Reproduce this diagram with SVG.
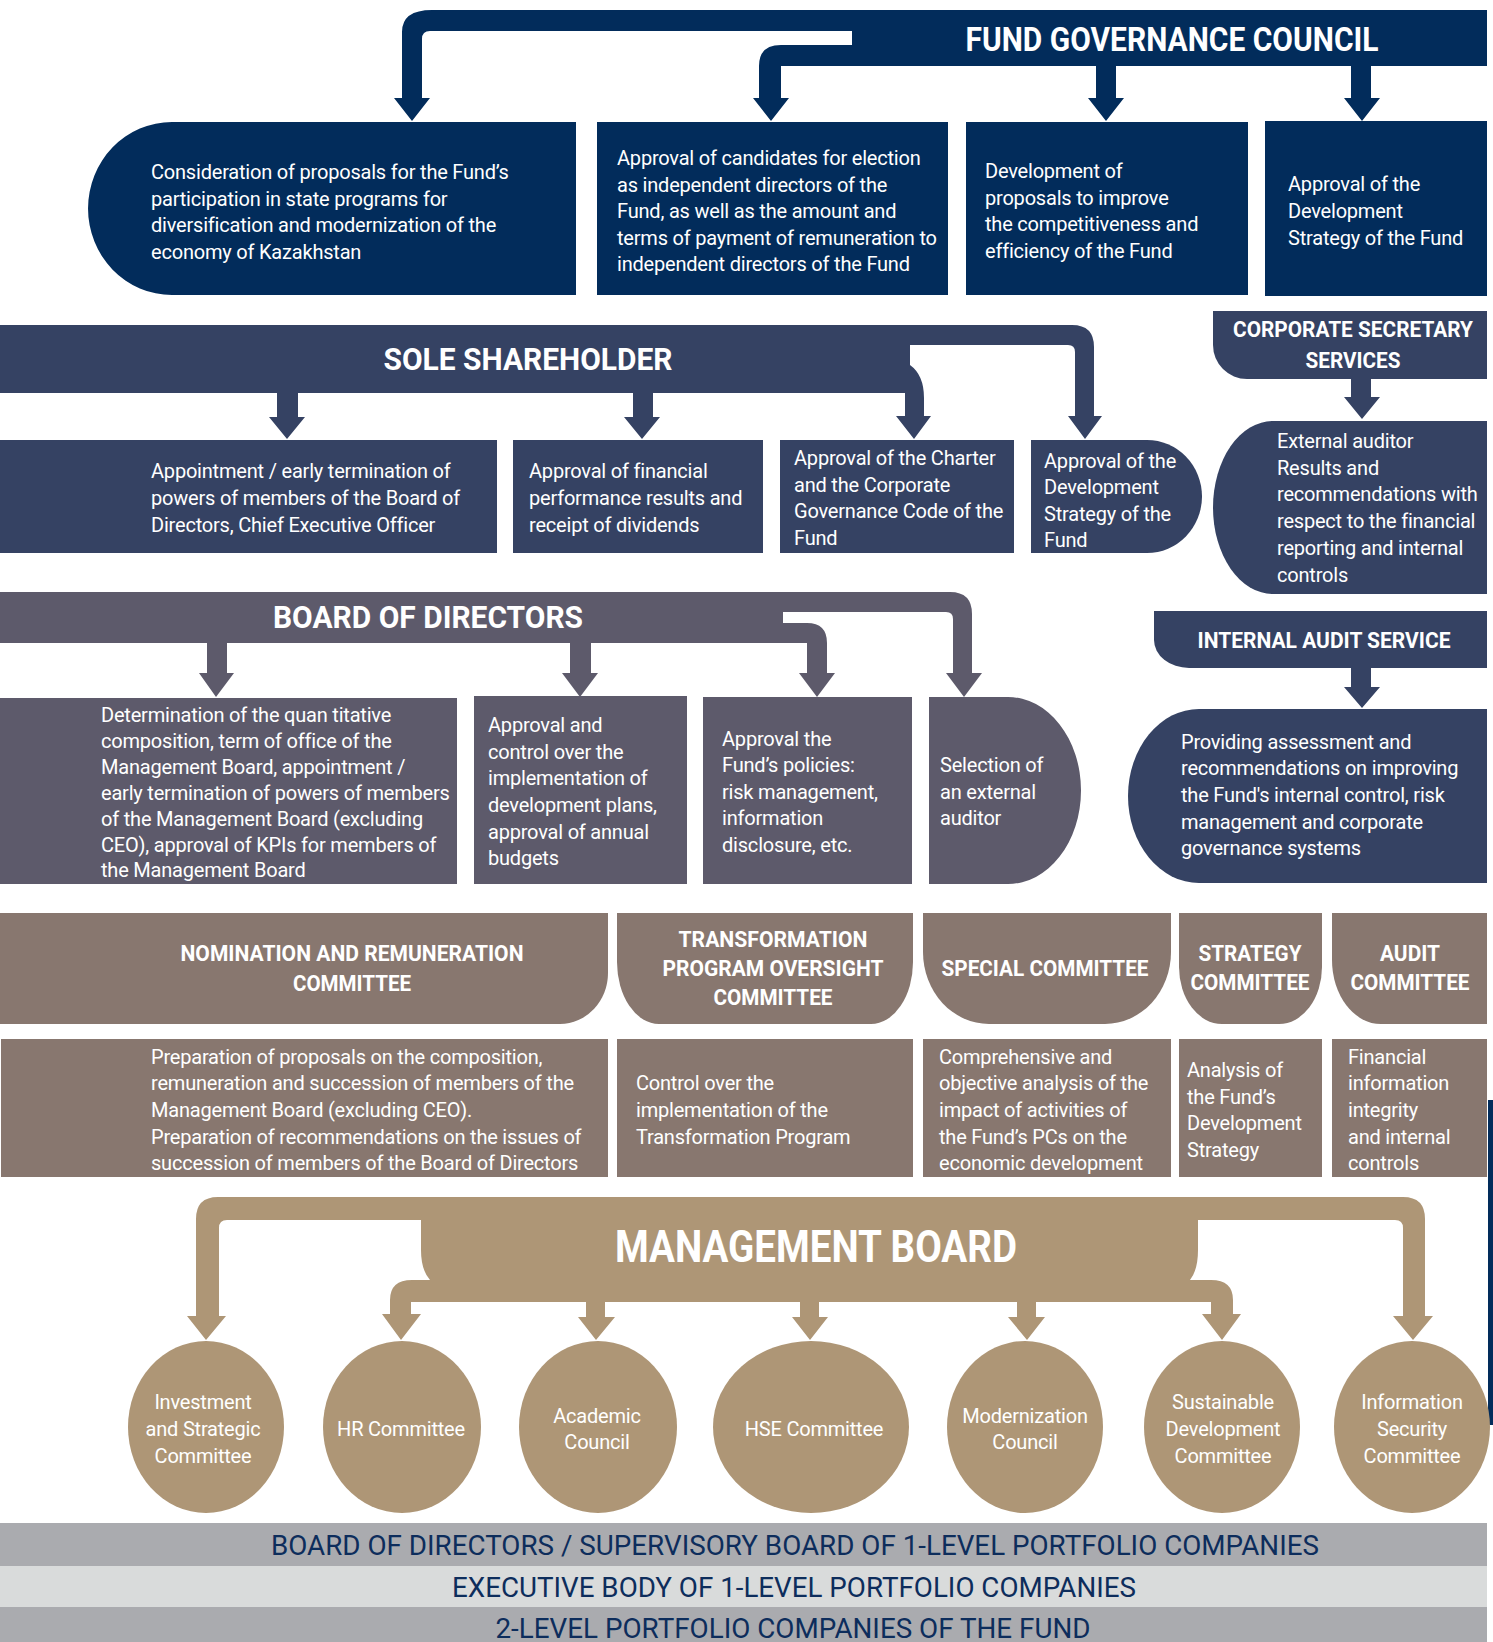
<svg xmlns="http://www.w3.org/2000/svg" width="1493" height="1642" viewBox="0 0 1493 1642">
<style>
.navy{fill:#022c5b}
.slate{fill:#354263}
.bod{fill:#5d5a6b}
.com{fill:#88776f}
.mb{fill:#ae9676}
.t{font-family:Roboto,"Liberation Sans",sans-serif;font-size:20px;letter-spacing:-0.2px;fill:#ffffff}
.tc{font-family:Roboto,"Liberation Sans",sans-serif;font-size:20px;letter-spacing:-0.2px;fill:#ffffff;text-anchor:middle}
.h{font-family:Roboto,"Liberation Sans",sans-serif;font-weight:700;fill:#ffffff;text-anchor:middle}
.b{font-family:Roboto,"Liberation Sans",sans-serif;font-size:27px;fill:#0d2d5c;text-anchor:middle}
</style>
<rect width="1493" height="1642" fill="#ffffff"/>
<rect x="1488" y="1100" width="5" height="325" fill="#022c5b"/>

<g id="connectors">
  <path class="navy" d="M852 10 H432 Q402 10 402 32 V98 H394 L412 121 L430 98 H422 V39 Q422 31 430 31 H852 Z"/>
  <path class="navy" d="M852 45 H781 Q759 45 759 66 V98 H753 L771 121 L789 98 H781 V66 H852 Z"/>
  <path class="navy" d="M1096 60 H1116 V98 H1124 L1106 121 L1088 98 H1096 Z"/>
  <path class="navy" d="M1351 60 H1371 V98 H1380 L1362 121 L1344 98 H1351 Z"/>
  <path class="slate" d="M277 390 H298 V417 H305 L287 439 L269 417 H277 Z"/>
  <path class="slate" d="M633 390 H653 V417 H660 L642 439 L624 417 H633 Z"/>
  <path class="slate" d="M900 345 H910 V365 Q924 375 924 398 V416 H931 L914 439 L896 416 H905 V393 H900 Z"/>
  <path class="slate" d="M905 325 H1072 Q1094 325 1094 347 V416 H1102 L1085 439 L1068 416 H1075 V352 Q1075 345 1068 345 H905 Z"/>
  <path class="slate" d="M1351 375 H1371 V397 H1380 L1362 419 L1344 397 H1351 Z"/>
  <path class="slate" d="M1351 664 H1371 V687 H1380 L1362 708 L1344 687 H1351 Z"/>
  <path class="bod" d="M207 640 H227 V673 H234 L216 697 L199 673 H207 Z"/>
  <path class="bod" d="M570 640 H591 V673 H598 L580 697 L562 673 H570 Z"/>
  <path class="bod" d="M780 623 H807 Q827 623 827 643 V673 H835 L817 697 L799 673 H807 V643 H780 Z"/>
  <path class="bod" d="M780 592 H950 Q972 592 972 614 V673 H982 L964 697 L946 673 H953 V619 Q953 612 946 612 H780 Z"/>
  <path class="mb" d="M218 1197 H1403 Q1425 1197 1425 1219 V1316 H1433 L1413 1340 L1393 1316 H1403 V1228 Q1403 1220 1395 1220 H227 Q219 1220 219 1228 V1316 H226 L206 1340 L187 1316 H196 V1219 Q196 1197 218 1197 Z"/>
  <path class="mb" d="M432 1280 H412 Q390 1280 390 1300 V1314 H382 L401 1340 L421 1314 H411 V1302 H432 Z"/>
  <path class="mb" d="M1188 1280 H1211 Q1233 1280 1233 1300 V1314 H1241 L1222 1340 L1202 1314 H1211 V1302 H1188 Z"/>
  <path class="mb" d="M586 1298 H605 V1317 H615 L596 1340 L578 1317 H586 Z"/>
  <path class="mb" d="M800 1298 H819 V1317 H828 L810 1340 L792 1317 H800 Z"/>
  <path class="mb" d="M1017 1298 H1036 V1317 H1045 L1027 1340 L1008 1317 H1017 Z"/>
</g>

<g id="fund-governance-council">
  <rect class="navy" x="852" y="10" width="635" height="56"/>
  <text class="h" x="1172" y="51" font-size="34" textLength="413" lengthAdjust="spacingAndGlyphs">FUND GOVERNANCE COUNCIL</text>
</g>
<g id="fgc-1">
  <path class="navy" d="M172 122 H576 V295 H172 A84 86.5 0 0 1 172 122 Z"/>
  <text class="t" x="151" y="179">Consideration of proposals for the Fund’s</text>
  <text class="t" x="151" y="206">participation in state programs for</text>
  <text class="t" x="151" y="232">diversification and modernization of the</text>
  <text class="t" x="151" y="259">economy of Kazakhstan</text>
</g>
<g id="fgc-2">
  <rect class="navy" x="597" y="122" width="351" height="173"/>
  <text class="t" x="617" y="165">Approval of candidates for election</text>
  <text class="t" x="617" y="192">as independent directors of the</text>
  <text class="t" x="617" y="218">Fund, as well as the amount and</text>
  <text class="t" x="617" y="245">terms of payment of remuneration to</text>
  <text class="t" x="617" y="271">independent directors of the Fund</text>
</g>
<g id="fgc-3">
  <rect class="navy" x="966" y="122" width="282" height="173"/>
  <text class="t" x="985" y="178">Development of</text>
  <text class="t" x="985" y="205">proposals to improve</text>
  <text class="t" x="985" y="231">the competitiveness and</text>
  <text class="t" x="985" y="258">efficiency of the Fund</text>
</g>
<g id="fgc-4">
  <rect class="navy" x="1265" y="121" width="222" height="175"/>
  <text class="t" x="1288" y="191">Approval of the</text>
  <text class="t" x="1288" y="218">Development</text>
  <text class="t" x="1288" y="245">Strategy of the Fund</text>
</g>

<g id="sole-shareholder">
  <rect class="slate" x="0" y="325" width="910" height="68"/>
  <text class="h" x="528" y="370" font-size="32" textLength="289" lengthAdjust="spacingAndGlyphs">SOLE SHAREHOLDER</text>
</g>
<g id="ss-1">
  <rect class="slate" x="0" y="440" width="497" height="113"/>
  <text class="t" x="151" y="478">Appointment / early termination of</text>
  <text class="t" x="151" y="505">powers of members of the Board of</text>
  <text class="t" x="151" y="532">Directors, Chief Executive Officer</text>
</g>
<g id="ss-2">
  <rect class="slate" x="513" y="440" width="250" height="113"/>
  <text class="t" x="529" y="478">Approval of financial</text>
  <text class="t" x="529" y="505">performance results and</text>
  <text class="t" x="529" y="532">receipt of dividends</text>
</g>
<g id="ss-3">
  <rect class="slate" x="780" y="440" width="234" height="113"/>
  <text class="t" x="794" y="465">Approval of the Charter</text>
  <text class="t" x="794" y="492">and the Corporate</text>
  <text class="t" x="794" y="518">Governance Code of the</text>
  <text class="t" x="794" y="545">Fund</text>
</g>
<g id="ss-4">
  <path class="slate" d="M1031 440 H1147 A55 56.5 0 0 1 1147 553 H1031 Z"/>
  <text class="t" x="1044" y="468">Approval of the</text>
  <text class="t" x="1044" y="494">Development</text>
  <text class="t" x="1044" y="521">Strategy of the</text>
  <text class="t" x="1044" y="547">Fund</text>
</g>

<g id="corporate-secretary">
  <path class="slate" d="M1213 311 H1487 V379 H1247 A34 34 0 0 1 1213 345 Z"/>
  <text class="h" x="1353" y="337" font-size="22.5" textLength="240" lengthAdjust="spacingAndGlyphs">CORPORATE SECRETARY</text>
  <text class="h" x="1353" y="368" font-size="22.5" textLength="95" lengthAdjust="spacingAndGlyphs">SERVICES</text>
</g>
<g id="external-auditor">
  <path class="slate" d="M1273 421 H1487 V594 H1273 A60 86.5 0 0 1 1273 421 Z"/>
  <text class="t" x="1277" y="448">External auditor</text>
  <text class="t" x="1277" y="475">Results and</text>
  <text class="t" x="1277" y="501">recommendations with</text>
  <text class="t" x="1277" y="528">respect to the financial</text>
  <text class="t" x="1277" y="555">reporting and internal</text>
  <text class="t" x="1277" y="582">controls</text>
</g>

<g id="board-of-directors">
  <rect class="bod" x="0" y="592" width="783" height="51"/>
  <text class="h" x="428" y="628" font-size="32" textLength="310" lengthAdjust="spacingAndGlyphs">BOARD OF DIRECTORS</text>
</g>
<g id="bod-1">
  <rect class="bod" x="0" y="698" width="457" height="186"/>
  <text class="t" x="101" y="722">Determination of the quan titative</text>
  <text class="t" x="101" y="748">composition, term of office of the</text>
  <text class="t" x="101" y="774">Management Board, appointment /</text>
  <text class="t" x="101" y="800">early termination of powers of members</text>
  <text class="t" x="101" y="826">of the Management Board (excluding</text>
  <text class="t" x="101" y="852">CEO), approval of KPIs for members of</text>
  <text class="t" x="101" y="877">the Management Board</text>
</g>
<g id="bod-2">
  <rect class="bod" x="474" y="696" width="213" height="188"/>
  <text class="t" x="488" y="732">Approval and</text>
  <text class="t" x="488" y="759">control over the</text>
  <text class="t" x="488" y="785">implementation of</text>
  <text class="t" x="488" y="812">development plans,</text>
  <text class="t" x="488" y="839">approval of annual</text>
  <text class="t" x="488" y="865">budgets</text>
</g>
<g id="bod-3">
  <rect class="bod" x="703" y="697" width="209" height="187"/>
  <text class="t" x="722" y="746">Approval the</text>
  <text class="t" x="722" y="772">Fund’s policies:</text>
  <text class="t" x="722" y="799">risk management,</text>
  <text class="t" x="722" y="825">information</text>
  <text class="t" x="722" y="852">disclosure, etc.</text>
</g>
<g id="bod-4">
  <path class="bod" d="M929 697 H1008 A73 93.5 0 0 1 1008 884 H929 Z"/>
  <text class="t" x="940" y="772">Selection of</text>
  <text class="t" x="940" y="799">an external</text>
  <text class="t" x="940" y="825">auditor</text>
</g>

<g id="internal-audit-service">
  <path class="slate" d="M1154 611 H1487 V668 H1189 A35 28 0 0 1 1154 640 Z"/>
  <text class="h" x="1324" y="648" font-size="22.5" textLength="253" lengthAdjust="spacingAndGlyphs">INTERNAL AUDIT SERVICE</text>
</g>
<g id="internal-audit-role">
  <path class="slate" d="M1199 709 H1487 V883 H1199 A71 87 0 0 1 1199 709 Z"/>
  <text class="t" x="1181" y="749">Providing assessment and</text>
  <text class="t" x="1181" y="775">recommendations on improving</text>
  <text class="t" x="1181" y="802">the Fund's internal control, risk</text>
  <text class="t" x="1181" y="829">management and corporate</text>
  <text class="t" x="1181" y="855">governance systems</text>
</g>

<g id="nomination-committee">
  <path class="com" d="M0 913 H608 V973 A48 51 0 0 1 560 1024 H0 Z"/>
  <text class="h" x="352" y="961" font-size="22.5" textLength="343" lengthAdjust="spacingAndGlyphs">NOMINATION AND REMUNERATION</text>
  <text class="h" x="352" y="991" font-size="22.5" textLength="118" lengthAdjust="spacingAndGlyphs">COMMITTEE</text>
  <rect class="com" x="1" y="1039" width="607" height="138"/>
  <text class="t" x="151" y="1064">Preparation of proposals on the composition,</text>
  <text class="t" x="151" y="1090">remuneration and succession of members of the</text>
  <text class="t" x="151" y="1117">Management Board (excluding CEO).</text>
  <text class="t" x="151" y="1144">Preparation of recommendations on the issues of</text>
  <text class="t" x="151" y="1170">succession of members of the Board of Directors</text>
</g>
<g id="transformation-committee">
  <path class="com" d="M617 913 H913 V962 A42 62 0 0 1 871 1024 H659 A42 62 0 0 1 617 962 Z"/>
  <text class="h" x="773" y="947" font-size="22.5" textLength="189" lengthAdjust="spacingAndGlyphs">TRANSFORMATION</text>
  <text class="h" x="773" y="976" font-size="22.5" textLength="221" lengthAdjust="spacingAndGlyphs">PROGRAM OVERSIGHT</text>
  <text class="h" x="773" y="1005" font-size="22.5" textLength="119" lengthAdjust="spacingAndGlyphs">COMMITTEE</text>
  <rect class="com" x="617" y="1039" width="296" height="138"/>
  <text class="t" x="636" y="1090">Control over the</text>
  <text class="t" x="636" y="1117">implementation of the</text>
  <text class="t" x="636" y="1144">Transformation Program</text>
</g>
<g id="special-committee">
  <path class="com" d="M923 913 H1171 V952 A66 72 0 0 1 1105 1024 H989 A66 72 0 0 1 923 952 Z"/>
  <text class="h" x="1045" y="976" font-size="22.5" textLength="207" lengthAdjust="spacingAndGlyphs">SPECIAL COMMITTEE</text>
  <rect class="com" x="923" y="1039" width="248" height="138"/>
  <text class="t" x="939" y="1064">Comprehensive and</text>
  <text class="t" x="939" y="1090">objective analysis of the</text>
  <text class="t" x="939" y="1117">impact of activities of</text>
  <text class="t" x="939" y="1144">the Fund’s PCs on the</text>
  <text class="t" x="939" y="1170">economic development</text>
</g>
<g id="strategy-committee">
  <path class="com" d="M1179 913 H1322 V967 A43 57 0 0 1 1279 1024 H1222 A43 57 0 0 1 1179 967 Z"/>
  <text class="h" x="1250" y="961" font-size="22.5" textLength="103" lengthAdjust="spacingAndGlyphs">STRATEGY</text>
  <text class="h" x="1250" y="990" font-size="22.5" textLength="119" lengthAdjust="spacingAndGlyphs">COMMITTEE</text>
  <rect class="com" x="1179" y="1039" width="143" height="138"/>
  <text class="t" x="1187" y="1077">Analysis of</text>
  <text class="t" x="1187" y="1104">the Fund’s</text>
  <text class="t" x="1187" y="1130">Development</text>
  <text class="t" x="1187" y="1157">Strategy</text>
</g>
<g id="audit-committee">
  <path class="com" d="M1332 913 H1487 V1024 H1381 A49 64 0 0 1 1332 960 Z"/>
  <text class="h" x="1410" y="961" font-size="22.5" textLength="60" lengthAdjust="spacingAndGlyphs">AUDIT</text>
  <text class="h" x="1410" y="990" font-size="22.5" textLength="119" lengthAdjust="spacingAndGlyphs">COMMITTEE</text>
  <rect class="com" x="1332" y="1039" width="155" height="138"/>
  <text class="t" x="1348" y="1064">Financial</text>
  <text class="t" x="1348" y="1090">information</text>
  <text class="t" x="1348" y="1117">integrity</text>
  <text class="t" x="1348" y="1144">and internal</text>
  <text class="t" x="1348" y="1170">controls</text>
</g>

<g id="management-board">
  <path class="mb" d="M421 1197 H1198 V1250 Q1198 1270 1190 1280 V1302 H430 V1280 Q421 1270 421 1250 Z"/>
  <text class="h" x="816" y="1262" font-size="45" textLength="402" lengthAdjust="spacingAndGlyphs">MANAGEMENT BOARD</text>
</g>
<g id="investment-committee">
  <ellipse class="mb" cx="206" cy="1427" rx="78" ry="86"/>
  <text class="tc" x="203" y="1409">Investment</text>
  <text class="tc" x="203" y="1436">and Strategic</text>
  <text class="tc" x="203" y="1463">Committee</text>
</g>
<g id="hr-committee">
  <ellipse class="mb" cx="402" cy="1427" rx="79" ry="86"/>
  <text class="tc" x="401" y="1436">HR Committee</text>
</g>
<g id="academic-council">
  <ellipse class="mb" cx="598" cy="1427" rx="79" ry="86"/>
  <text class="tc" x="597" y="1423">Academic</text>
  <text class="tc" x="597" y="1449">Council</text>
</g>
<g id="hse-committee">
  <ellipse class="mb" cx="811" cy="1427" rx="98" ry="86"/>
  <text class="tc" x="814" y="1436">HSE Committee</text>
</g>
<g id="modernization-council">
  <ellipse class="mb" cx="1025" cy="1427" rx="78" ry="86"/>
  <text class="tc" x="1025" y="1423">Modernization</text>
  <text class="tc" x="1025" y="1449">Council</text>
</g>
<g id="sustainable-committee">
  <ellipse class="mb" cx="1222" cy="1427" rx="78" ry="86"/>
  <text class="tc" x="1223" y="1409">Sustainable</text>
  <text class="tc" x="1223" y="1436">Development</text>
  <text class="tc" x="1223" y="1463">Committee</text>
</g>
<g id="infosec-committee">
  <ellipse class="mb" cx="1412" cy="1427" rx="78" ry="86"/>
  <text class="tc" x="1412" y="1409">Information</text>
  <text class="tc" x="1412" y="1436">Security</text>
  <text class="tc" x="1412" y="1463">Committee</text>
</g>

<g id="band-3">
  <rect x="0" y="1607" width="1487" height="35" fill="#aaabaf"/>
  <text class="b" x="793" y="1638" textLength="595" lengthAdjust="spacingAndGlyphs">2-LEVEL PORTFOLIO COMPANIES OF THE FUND</text>
</g>
<g id="band-2">
  <rect x="0" y="1566" width="1487" height="41" fill="#d9dbdb"/>
  <text class="b" x="794" y="1597" textLength="684" lengthAdjust="spacingAndGlyphs">EXECUTIVE BODY OF 1-LEVEL PORTFOLIO COMPANIES</text>
</g>
<g id="band-1">
  <rect x="0" y="1523" width="1487" height="43" fill="#aaabaf"/>
  <text class="b" x="795" y="1555" textLength="1048" lengthAdjust="spacingAndGlyphs">BOARD OF DIRECTORS / SUPERVISORY BOARD OF 1-LEVEL PORTFOLIO COMPANIES</text>
</g>
</svg>
